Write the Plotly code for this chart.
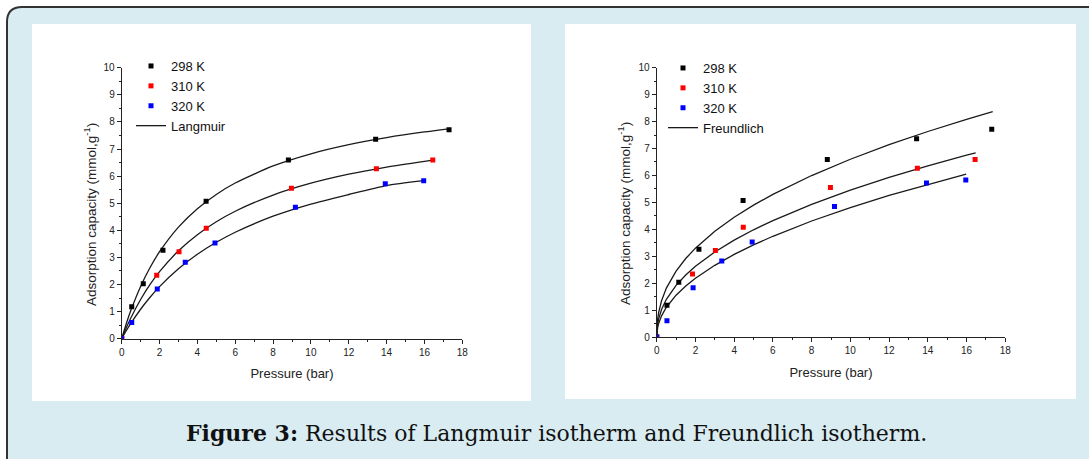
import plotly.graph_objects as go

W, H = 1089, 459

# ---------------- data ----------------
p_298 = [0, 0.53, 1.14, 2.18, 4.46, 8.81, 13.42, 17.30]
q_298 = [0, 1.18, 2.03, 3.26, 5.07, 6.59, 7.36, 7.71]
p_310 = [0, 1.85, 3.03, 4.47, 8.97, 13.46, 16.44]
q_310 = [0, 2.34, 3.21, 4.08, 5.55, 6.27, 6.59]
p_320 = [0, 0.53, 1.88, 3.36, 4.93, 9.18, 13.93, 15.96]
q_320 = [0, 0.60, 1.83, 2.82, 3.53, 4.85, 5.72, 5.83]

# Langmuir fitted curves (left panel)
lp_298 = [0, 0.25, 0.5, 1, 1.5, 2, 3, 4, 5, 6, 8, 10, 12, 14, 16, 17.3]
lq_298 = [0, 0.569, 1.074, 1.930, 2.628, 3.209, 4.118, 4.797, 5.324, 5.745, 6.375, 6.824, 7.160, 7.421, 7.630, 7.745]
lp_310 = [0, 0.25, 0.5, 1, 1.5, 2, 3, 4, 5, 6, 8, 10, 12, 14, 16, 16.44]
lq_310 = [0, 0.414, 0.790, 1.446, 2.001, 2.474, 3.243, 3.839, 4.315, 4.704, 5.301, 5.738, 6.072, 6.334, 6.547, 6.590]
lp_320 = [0, 0.25, 0.5, 1, 1.5, 2, 3, 4, 5, 6, 8, 10, 12, 14, 15.96]
lq_320 = [0, 0.302, 0.582, 1.087, 1.529, 1.920, 2.580, 3.114, 3.557, 3.929, 4.520, 4.969, 5.321, 5.650, 5.830]

# Freundlich fitted curves (right panel)
fp_298 = [0, 0.01, 0.02, 0.05, 0.1, 0.25, 0.5, 0.75, 1, 1.5, 2, 3, 4, 5, 6, 8, 10, 12, 14, 16, 17.35]
fq_298 = [0, 0.336, 0.453, 0.673, 0.907, 1.346, 1.815, 2.150, 2.447, 2.914, 3.299, 3.929, 4.447, 4.895, 5.297, 5.996, 6.601, 7.141, 7.631, 8.084, 8.370]
fp_310 = [0, 0.01, 0.02, 0.05, 0.1, 0.25, 0.5, 0.75, 1, 1.5, 2, 3, 4, 5, 6, 8, 10, 12, 14, 16, 16.47]
fq_310 = [0, 0.237, 0.325, 0.492, 0.674, 1.022, 1.399, 1.677, 1.917, 2.304, 2.626, 3.157, 3.597, 3.981, 4.324, 4.928, 5.453, 5.923, 6.353, 6.750, 6.840]
fp_320 = [0, 0.01, 0.02, 0.05, 0.1, 0.25, 0.5, 0.75, 1, 1.5, 2, 3, 4, 5, 6, 8, 10, 12, 14, 15.98]
fq_320 = [0, 0.162, 0.228, 0.357, 0.502, 0.787, 1.105, 1.349, 1.553, 1.895, 2.182, 2.662, 3.066, 3.422, 3.740, 4.307, 4.806, 5.256, 5.669, 6.050]

series_names = ["298 K", "310 K", "320 K"]
series_colors = ["#000000", "#ff0000", "#0000ff"]
x_ticks = [0, 2, 4, 6, 8, 10, 12, 14, 16, 18]
y_ticks = [0, 1, 2, 3, 4, 5, 6, 7, 8, 9, 10]
caption = "<b>Figure 3:</b> Results of Langmuir isotherm and Freundlich isotherm."
y_title = "Adsorption capacity (mmol,g<sup>-1</sup>)"
x_title = "Pressure (bar)"


def px(x):
    return x / W


def py(y):
    return 1 - y / H


fig = go.Figure()

points = [(p_298, q_298), (p_310, q_310), (p_320, q_320)]
lang = [(lp_298, lq_298), (lp_310, lq_310), (lp_320, lq_320)]
freu = [(fp_298, fq_298), (fp_310, fq_310), (fp_320, fq_320)]

LINE = dict(color="#1a1a1a", width=1.3)

for panel, curves, fitname, leg, shape in [(1, lang, "Langmuir", "legend", "spline"),
                                           (2, freu, "Freundlich", "legend2", "linear")]:
    xa = "x" if panel == 1 else "x2"
    ya = "y" if panel == 1 else "y2"
    for i, (cx, cy) in enumerate(curves):
        line = dict(**LINE, shape=shape)
        if shape == "spline":
            line["smoothing"] = 0.6
        fig.add_trace(go.Scatter(x=cx, y=cy, mode="lines", line=line,
                                 name=fitname, showlegend=(i == 0), legendrank=10,
                                 xaxis=xa, yaxis=ya, legend=leg))
    for i, (sx, sy) in enumerate(points):
        fig.add_trace(go.Scatter(x=sx, y=sy, mode="markers",
                                 marker=dict(symbol="square", size=5, color=series_colors[i], line=dict(width=0)),
                                 name=series_names[i], legendrank=i + 1,
                                 xaxis=xa, yaxis=ya, legend=leg))

SANS = "Arial, Liberation Sans, sans-serif"
axis_font = dict(family=SANS, size=10, color="#222")
common_x = dict(range=[0, 18], tickvals=x_ticks, ticks="outside", ticklen=4, tickwidth=1, tickcolor="#222",
                showline=True, linecolor="#222", linewidth=1, showgrid=False, zeroline=False,
                minor=dict(dtick=1, ticks="outside", ticklen=2, tickcolor="#222", showgrid=False),
                tickfont=axis_font, fixedrange=True, automargin=False,
                title=dict(text=x_title, font=dict(family=SANS, size=13, color="#222"), standoff=12))
common_y = dict(range=[0, 10], tickvals=y_ticks, ticks="outside", ticklen=4, tickwidth=1, tickcolor="#222",
                showline=True, linecolor="#222", linewidth=1, showgrid=False, zeroline=False,
                minor=dict(dtick=0.5, ticks="outside", ticklen=2, tickcolor="#222", showgrid=False),
                tickfont=axis_font, fixedrange=True, automargin=False)

BG = "#d8ecf1"
LEGFONT = dict(family=SANS, size=13, color="#111")
fig.update_layout(
    width=W, height=H, autosize=False,
    margin=dict(l=0, r=0, t=0, b=0, pad=0, autoexpand=False),
    paper_bgcolor=BG, plot_bgcolor="rgba(0,0,0,0)",
    xaxis=dict(domain=[px(121.7), px(462.3)], anchor="y", **common_x),
    yaxis=dict(domain=[py(338.7), py(67.7)], anchor="x", **common_y),
    xaxis2=dict(domain=[px(656.7), px(1005.3)], anchor="y2", **common_x),
    yaxis2=dict(domain=[py(337), py(67.7)], anchor="x2", **common_y),
    legend=dict(x=px(131), y=py(51), xanchor="left", yanchor="top", bgcolor="rgba(0,0,0,0)",
                font=LEGFONT, tracegroupgap=0, itemwidth=30, traceorder="normal"),
    legend2=dict(x=px(663), y=py(53), xanchor="left", yanchor="top", bgcolor="rgba(0,0,0,0)",
                 font=LEGFONT, tracegroupgap=0, itemwidth=30, traceorder="normal"),
    showlegend=True,
)

# y-axis titles (placed like the reference, slightly below the axis centre)
for cx, cy in [(90, 215), (624, 214)]:
    fig.add_annotation(text=y_title, xref="paper", yref="paper", x=px(cx), y=py(cy), showarrow=False,
                       textangle=-90, xanchor="center", yanchor="middle",
                       font=dict(family=SANS, size=13.5, color="#222"))

# white surround outside the rounded dark frame (top and left edges visible)
L, T, r = 7, 7, 15
fig.add_shape(type="rect", xref="paper", yref="paper", x0=0, x1=1, y0=py(T), y1=1,
              fillcolor="white", line=dict(width=0), layer="below")
fig.add_shape(type="rect", xref="paper", yref="paper", x0=0, x1=px(L), y0=0, y1=1,
              fillcolor="white", line=dict(width=0), layer="below")
outside_corner = (f"M {px(L)} {py(T + r)} Q {px(L)} {py(T)} {px(L + r)} {py(T)} L {px(L)} {py(T)} Z")
fig.add_shape(type="path", path=outside_corner, xref="paper", yref="paper", fillcolor="white",
              line=dict(width=0), layer="below")
border = (f"M {px(L)} 0 L {px(L)} {py(T + r)} Q {px(L)} {py(T)} {px(L + r)} {py(T)} L 1 {py(T)}")
fig.add_shape(type="path", path=border, xref="paper", yref="paper",
              line=dict(color="#333333", width=2), layer="below")
fig.add_shape(type="rect", xref="paper", yref="paper", x0=px(32), x1=px(531), y0=py(401), y1=py(24),
              fillcolor="white", line=dict(width=0), layer="below")
fig.add_shape(type="rect", xref="paper", yref="paper", x0=px(565), x1=px(1076), y0=py(399), y1=py(24),
              fillcolor="white", line=dict(width=0), layer="below")

fig.add_annotation(text=caption, xref="paper", yref="paper", x=px(556), y=py(433), showarrow=False,
                   xanchor="center", yanchor="middle",
                   font=dict(family="DejaVu Serif, serif", size=22, color="#111"))

fig.write_html("out.html", config={"displayModeBar": False, "staticPlot": True},
               post_script="document.body.style.margin='0';document.body.style.overflow='hidden';"
                           "document.documentElement.style.overflow='hidden';")
